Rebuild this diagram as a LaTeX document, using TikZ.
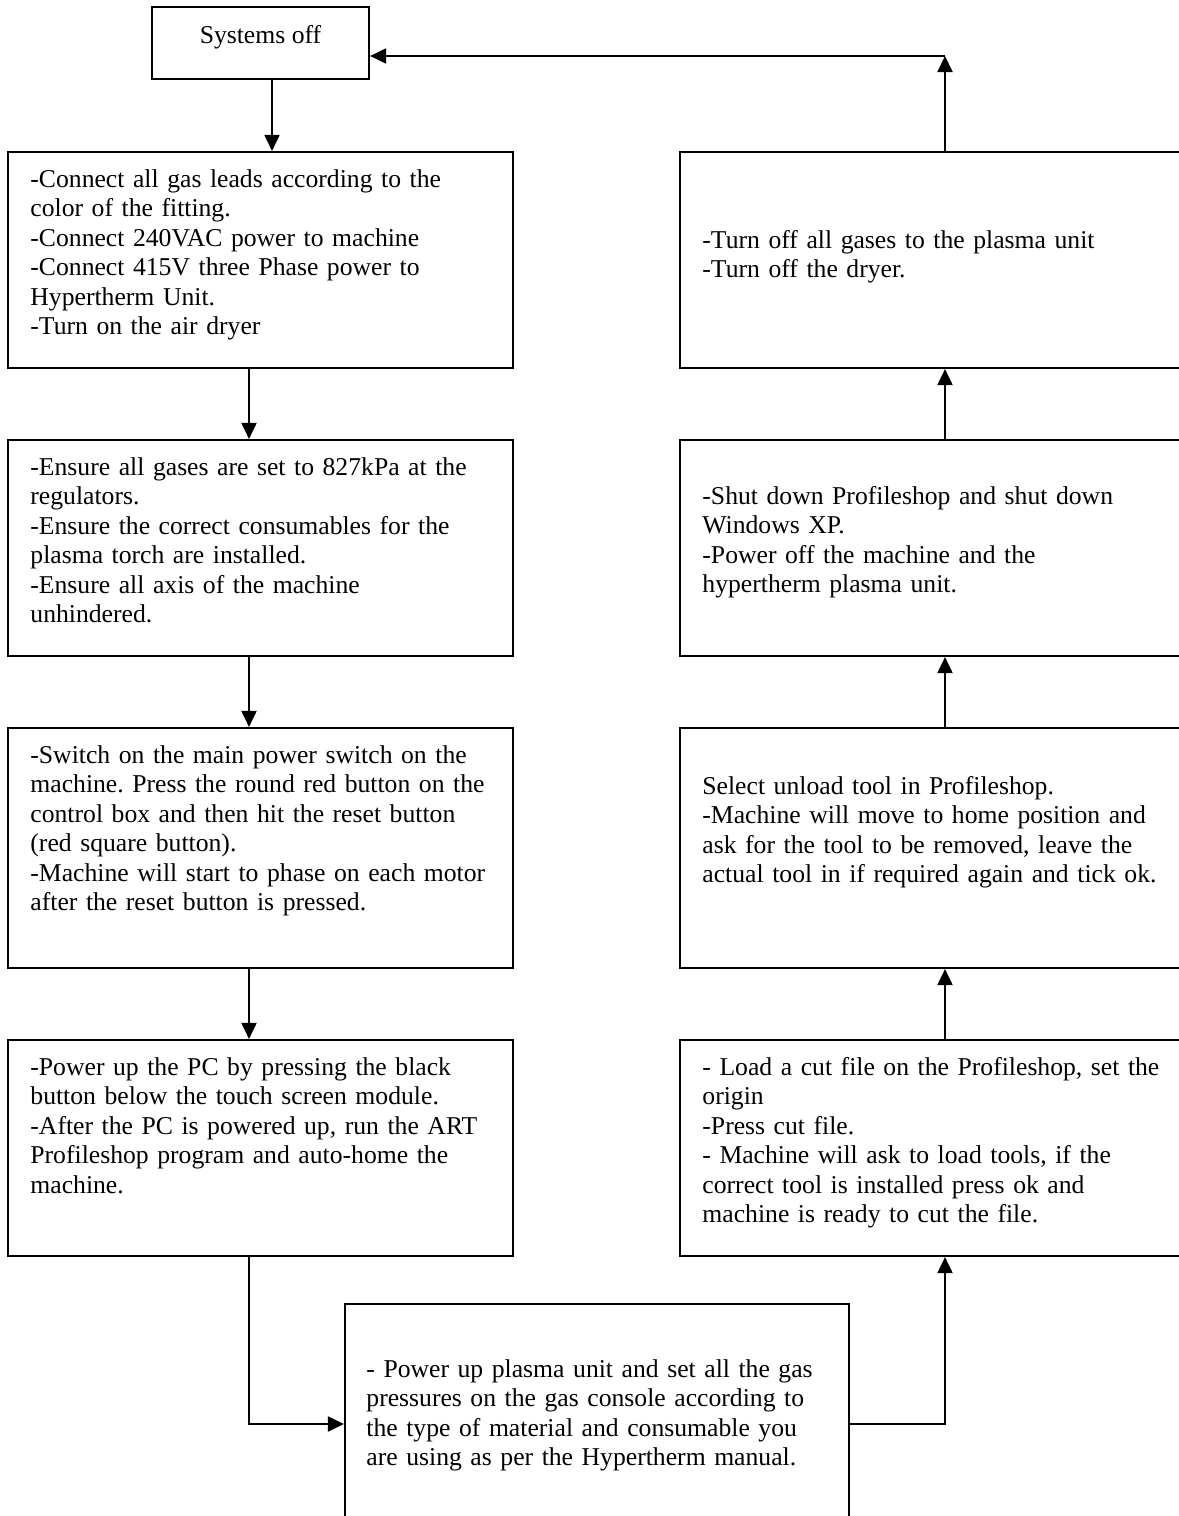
\documentclass[tikz,border=0pt]{standalone}
\usepackage{fontspec}
\setmainfont{Liberation Serif}
\usetikzlibrary{arrows.meta,fit}
\tikzset{
  box/.style={draw=black, line width=1pt, inner sep=0pt, fill=none},
  txt/.style={anchor=base west, inner sep=0pt, align=left, text width=250pt,
    font=\fontsize{12pt}{13.8pt}\selectfont\frenchspacing},
  ctxt/.style={anchor=base, inner sep=0pt, font=\fontsize{12pt}{13.8pt}\selectfont},
  arr/.style={line width=1pt, -{Triangle[length=7.5pt,width=7pt]}},
  ln/.style={line width=1pt}
}
\begin{document}
\begin{tikzpicture}[x=0.4675pt,y=-0.4675pt]
\clip (0,0) rectangle (1179,1516);
% boxes
\node[box, fit={(152,7) (369,79)}] (S) {};
\node[box, fit={(8,152) (513,368)}] (L1) {};
\node[box, fit={(8,440) (513,656)}] (L2) {};
\node[box, fit={(8,728) (513,968)}] (L3) {};
\node[box, fit={(8,1040) (513,1256)}] (L4) {};
\node[box, fit={(680,152) (1200,368)}] (R1) {};
\node[box, fit={(680,440) (1200,656)}] (R2) {};
\node[box, fit={(680,728) (1200,968)}] (R3) {};
\node[box, fit={(680,1040) (1200,1256)}] (R4) {};
\node[box, fit={(345,1304) (849,1540)}] (B) {};
% texts
\node[ctxt] (tS) at (260.5,43) {Systems off};
\node[txt] (tL1) at (30,187) {-Connect all gas leads according to the\\
color of the fitting.\\
-Connect 240VAC power to machine\\
-Connect 415V three Phase power to\\
Hypertherm Unit.\\
-Turn on the air dryer};
\node[txt] (tL2) at (30,475) {-Ensure all gases are set to 827kPa at the\\
regulators.\\
-Ensure the correct consumables for the\\
plasma torch are installed.\\
-Ensure all axis of the machine\\
unhindered.};
\node[txt] (tL3) at (30,763) {-Switch on the main power switch on the\\
machine. Press the round red button on the\\
control box and then hit the reset button\\
(red square button).\\
-Machine will start to phase on each motor\\
after the reset button is pressed.};
\node[txt] (tL4) at (30,1075) {-Power up the PC by pressing the black\\
button below the touch screen module.\\
-After the PC is powered up, run the ART\\
Profileshop program and auto-home the\\
machine.};
\node[txt] (tR1) at (702,248) {-Turn off all gases to the plasma unit\\
-Turn off the dryer.};
\node[txt] (tR2) at (702,504) {-Shut down Profileshop and shut down\\
Windows XP.\\
-Power off the machine and the\\
hypertherm plasma unit.};
\node[txt] (tR3) at (702,794) {Select unload tool in Profileshop.\\
-Machine will move to home position and\\
ask for the tool to be removed, leave the\\
actual tool in if required again and tick ok.};
\node[txt] (tR4) at (702,1075) {- Load a cut file on the Profileshop, set the\\
origin\\
-Press cut file.\\
- Machine will ask to load tools, if the\\
correct tool is installed press ok and\\
machine is ready to cut the file.};
\node[txt] (tB) at (366,1377) {- Power up plasma unit and set all the gas\\
pressures on the gas console according to\\
the type of material and consumable you\\
are using as per the Hypertherm manual.};
% connector helper coordinates
\coordinate (sx) at (272,0);
\coordinate (lx) at (249,0);
\coordinate (rx) at (945,0);
\coordinate (ty) at (0,56);
\coordinate (by) at (0,1424);
% connectors
\draw[arr] (S.south -| sx) -- (L1.north -| sx);
\draw[arr] (L1.south -| lx) -- (L2.north -| lx);
\draw[arr] (L2.south -| lx) -- (L3.north -| lx);
\draw[arr] (L3.south -| lx) -- (L4.north -| lx);
\draw[arr] (L4.south -| lx) |- (B.west |- by);
\draw[arr] (B.east |- by) -| (R4.south -| rx);
\draw[arr] (R4.north -| rx) -- (R3.south -| rx);
\draw[arr] (R3.north -| rx) -- (R2.south -| rx);
\draw[arr] (R2.north -| rx) -- (R1.south -| rx);
\draw[arr] (R1.north -| rx) -- (rx |- ty);
\draw[arr] (rx |- ty) -- (S.east |- ty);
\end{tikzpicture}
\end{document}
